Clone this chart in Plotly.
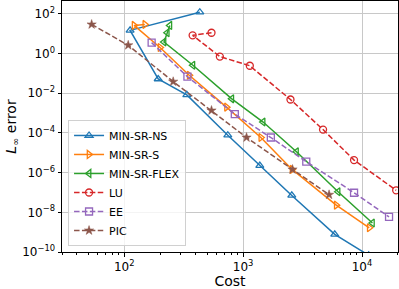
import plotly.graph_objects as go

# ---- data ----
ns_cost = [432, 112, 193, 336, 743, 1381, 2566, 5897, 11380]
ns_err = [121.6, 14.8, 0.0525, 0.0083, 7.7e-5, 2.24e-6, 7.1e-8, 7.7e-10, 6.8e-11]

s_cost = [149, 121, 200, 352, 725, 1409, 2580, 6070, 11500]
s_err = [29.5, 26.3, 2.04, 0.0813, 0.002, 5.9e-5, 1.45e-6, 2.3e-8, 1.66e-9]

flex_cost = [242, 230, 216, 378, 803, 1472, 2810, 6288, 12230]
flex_err = [26.3, 11.2, 3.85, 0.257, 0.00525, 3.55e-4, 1.12e-5, 1.08e-7, 2.9e-9]

lu_cost = [542, 376, 637, 1138, 2501, 4699, 8568, 19370]
lu_err = [11.2, 8.3, 0.708, 0.243, 0.00484, 1.48e-4, 4.3e-6, 1.29e-7]

ee_cost = [170, 340, 851, 1710, 3396, 8568, 16870]
ee_err = [3.55, 0.0684, 8.9e-4, 5.9e-5, 3.55e-6, 9.7e-8, 5.9e-9]

pic_cost = [53.2, 108, 258, 542, 1068, 2602, 5282]
pic_err = [29.5, 2.63, 0.0385, 0.00136, 5.9e-5, 1.45e-6, 7.7e-8]

series = [
    ("MIN-SR-NS", ns_cost, ns_err, "#1f77b4", "triangle-up-open", "solid"),
    ("MIN-SR-S", s_cost, s_err, "#ff7f0e", "triangle-right-open", "solid"),
    ("MIN-SR-FLEX", flex_cost, flex_err, "#2ca02c", "triangle-left-open", "solid"),
    ("LU", lu_cost, lu_err, "#d62728", "circle-open", "5.5px,2.4px"),
    ("EE", ee_cost, ee_err, "#9467bd", "square-open", "5.5px,2.4px"),
    ("PIC", pic_cost, pic_err, "#8c564b", "star", "5.5px,2.4px"),
]

y_tickvals = [1e2, 1e0, 1e-2, 1e-4, 1e-6, 1e-8, 1e-10]
y_ticktext = ["10<sup>2</sup>", "10<sup>0</sup>", "10<sup>−2</sup>", "10<sup>−4</sup>",
              "10<sup>−6</sup>", "10<sup>−8</sup>", "10<sup>−10</sup>"]
x_tickvals = [1e2, 1e3, 1e4]
x_ticktext = ["10<sup>2</sup>", "10<sup>3</sup>", "10<sup>4</sup>"]
x_minor = [m * 10 ** k for k in (1, 2, 3, 4) for m in range(2, 10)]

fig = go.Figure()
for name, xs, ys, col, sym, dash in series:
    fig.add_trace(go.Scatter(
        x=xs, y=ys, name=name, mode="lines+markers",
        line=dict(color=col, width=1.5, dash=dash),
        marker=dict(symbol=sym, size=7, color=col,
                    line=dict(color=col, width=1.3 if sym != "star" else 0.5)),
        cliponaxis=True,
    ))

font = "DejaVu Sans, sans-serif"
fig.update_layout(
    width=399, height=289,
    margin=dict(l=62, r=1, t=1, b=37),
    paper_bgcolor="white", plot_bgcolor="white",
    font=dict(family=font, size=12, color="black"),
    showlegend=True,
    legend=dict(
        x=0.018, y=0.024, xanchor="left", yanchor="bottom",
        bgcolor="rgba(255,255,255,0.8)", bordercolor="#d0d0d0", borderwidth=1,
        font=dict(family=font, size=11), tracegroupgap=0, itemwidth=30,
    ),
    xaxis=dict(
        type="log", range=[1.4765, 4.3025], automargin=False,
        tickvals=x_tickvals, ticktext=x_ticktext,
        ticks="outside", ticklen=3.5, tickwidth=0.8, tickcolor="black",
        showline=True, linecolor="black", linewidth=1, mirror=True,
        showgrid=True, gridcolor="#c8c8c8", gridwidth=1,
        zeroline=False,
        minor=dict(tickvals=x_minor, ticks="outside", ticklen=2, tickwidth=0.6,
                   tickcolor="black", showgrid=False),
        title=dict(text="Cost", font=dict(size=14), standoff=2),
        tickfont=dict(size=12),
    ),
    yaxis=dict(
        type="log", range=[-10, 2.65], automargin=False,
        tickvals=y_tickvals, ticktext=y_ticktext,
        ticks="outside", ticklen=3.5, tickwidth=0.8, tickcolor="black",
        showline=True, linecolor="black", linewidth=1, mirror=True,
        showgrid=True, gridcolor="#c8c8c8", gridwidth=1,
        zeroline=False,
        title=dict(text="<i>L</i><sub>∞</sub> error", font=dict(size=14), standoff=2),
        tickfont=dict(size=12),
    ),
)

fig.write_html("out.html", config={"displayModeBar": False},
               post_script="document.body.style.margin='0px';")
